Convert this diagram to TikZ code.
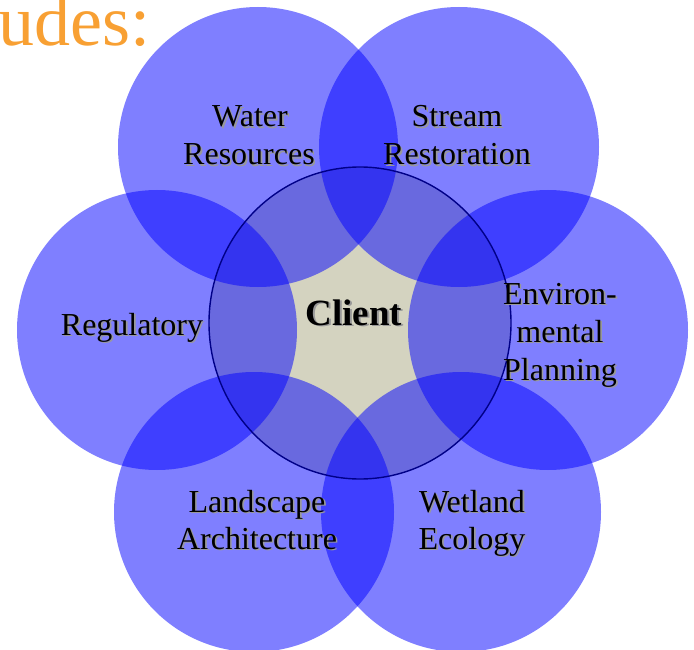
\documentclass[tikz,border=0pt]{standalone}
\usepackage{fontspec}
\setmainfont{Liberation Serif}
\definecolor{petal}{RGB}{0,0,255}
\definecolor{core}{RGB}{212,211,192}
\definecolor{rim}{RGB}{0,0,136}
\definecolor{headline}{RGB}{248,160,51}
\tikzset{
  petal/.style={fill=petal, fill opacity=0.5, draw=none},
  lbl/.style={inner sep=0pt, anchor=base, text=black,
    font=\fontsize{32}{38}\selectfont},
  lblshade/.style={inner sep=0pt, anchor=base, text=black!40,
    font=\fontsize{32}{38}\selectfont},
}
% label line with a soft drop shadow
\newcommand{\shadedline}[4][]{%
  \node[lblshade,#1] at ([xshift=1.6pt,yshift=-1.8pt]#3) {#4};
  \node[lbl,#1] (#2) at (#3) {#4};
}
\begin{document}
\begin{tikzpicture}[x=1pt,y=-1pt]
\useasboundingbox (0,0) rectangle (694,650);

% heading fragment
\node[anchor=base east, inner sep=0pt, text=headline,
  font=\fontsize{72}{80}\selectfont] (head) at (151,46) {udes:};

% client core
\fill[core] (360,323) ellipse [x radius=151, y radius=156];

% discipline circles
\fill[petal] (258,147) circle [radius=140];
\fill[petal] (459,147) circle [radius=140];
\fill[petal] (157,330) circle [radius=140];
\fill[petal] (548,330) circle [radius=140];
\fill[petal] (254,512) circle [radius=140];
\fill[petal] (461,512) circle [radius=140];

% core outline
\draw[rim, line width=1.4pt] (360,323) ellipse [x radius=151, y radius=156];

% labels
\shadedline{water1}{250,127}{Water}
\shadedline{water2}{249,165}{Resources}
\shadedline{stream1}{457,127}{Stream}
\shadedline{stream2}{457,165}{Restoration}
\shadedline{reg}{132,335}{Regulatory}
\shadedline{env1}{560,304}{Environ-}
\shadedline{env2}{560,342}{mental}
\shadedline{env3}{560,380}{Planning}
\shadedline{land1}{257,512}{Landscape}
\shadedline{land2}{257,549}{Architecture}
\shadedline{wet1}{472,512}{Wetland}
\shadedline{wet2}{472,549}{Ecology}
\shadedline[font=\fontsize{37}{44}\selectfont\bfseries]{client}{354,325}{Client}
\end{tikzpicture}
\end{document}
